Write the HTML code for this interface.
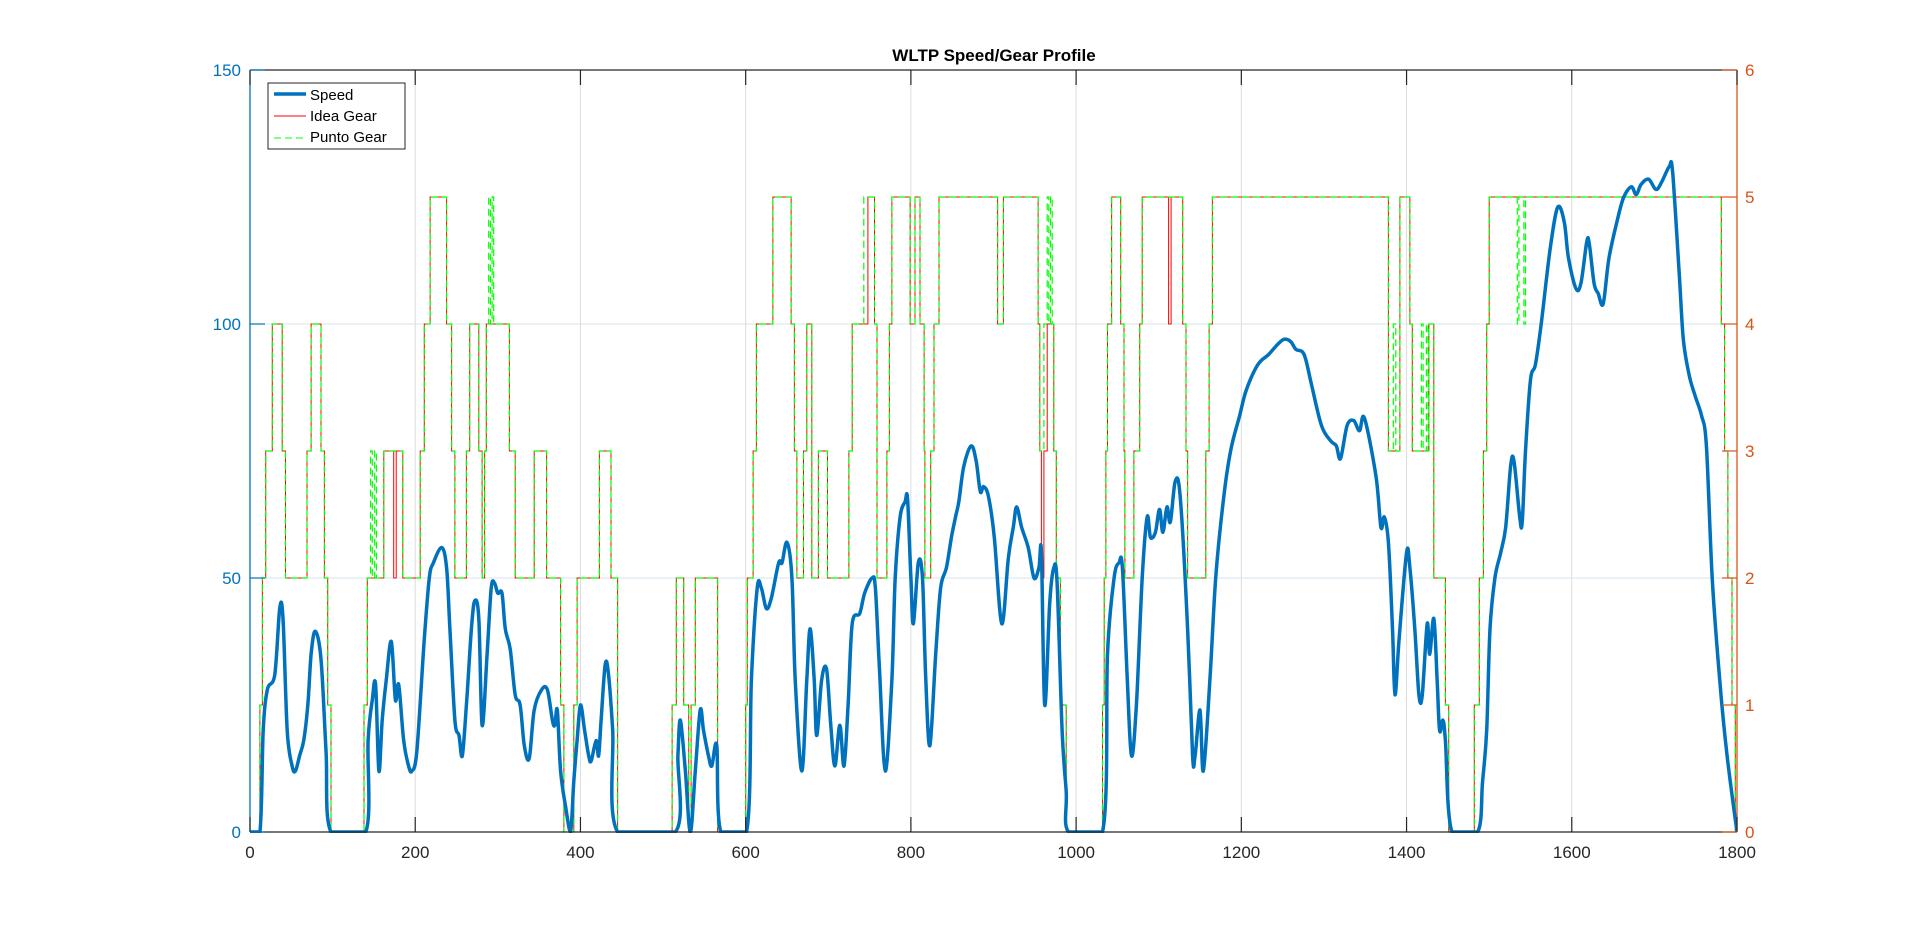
<!DOCTYPE html>
<html><head><meta charset="utf-8"><title>WLTP Speed/Gear Profile</title>
<style>
html,body{margin:0;padding:0;background:#fff;}
svg{display:block;font-family:"Liberation Sans",Arial,sans-serif;}
</style></head>
<body>
<svg id="chart" width="1920" height="936" viewBox="0 0 1920 936" xmlns="http://www.w3.org/2000/svg">
  <rect x="0" y="0" width="1920" height="936" fill="#ffffff"/>
  <defs><clipPath id="plotclip"><rect x="250" y="70" width="1487" height="763"/></clipPath></defs>
  <g id="grid"></g>
  <g id="series" clip-path="url(#plotclip)"></g>
  <g id="axes"></g>
  <text x="994" y="61" text-anchor="middle" font-size="17" font-weight="bold" fill="#000">WLTP Speed/Gear Profile</text>
  <g>
    <rect x="268" y="83" width="137" height="66" fill="#fff" stroke="#262626" stroke-width="1"/>
    <line x1="274" y1="94" x2="306" y2="94" stroke="#0072BD" stroke-width="3.5"/>
    <text x="310" y="100" font-size="15" fill="#000">Speed</text>
    <line x1="274" y1="116" x2="306" y2="116" stroke="#FF0000" stroke-width="1"/>
    <text x="310" y="121" font-size="15" fill="#000">Idea Gear</text>
    <line x1="274" y1="138" x2="306" y2="138" stroke="#00FF00" stroke-width="1" stroke-dasharray="7,4"/>
    <text x="310" y="142" font-size="15" fill="#000">Punto Gear</text>
  </g>
</svg>
<script>
// ---- data ----
const speedTimes = [0,12,16,21,30,36,40,45,51,55,60,65,70,74,79,86,92,98,
 140,143,148,152,156,160,165,171,176,180,186,192,196,202,211,217,222,232,238,242,248,253,257,262,268,272,277,281,287,292,296,300,305,309,315,321,327,332,338,344,353,360,366,369,372,376,382,388,
 392,396,400,405,410,413,419,422,425,430,434,439,445,
 515,518,521,527,533,539,545,549,555,559,565,570,
 601,607,614,619,625,631,640,644,650,656,660,668,674,678,683,686,692,698,703,708,714,719,724,729,738,744,753,757,762,769,777,781,787,793,796,800,803,809,814,818,823,830,836,843,849,854,858,864,873,879,884,888,894,901,910,918,924,928,934,942,949,955,958,962,968,973,977,983,988,991,
 1032,1038,1046,1052,1056,1062,1067,1073,1080,1086,1090,1096,1101,1105,1110,1114,1120,1126,1135,1141,1144,1150,1154,1162,1169,1178,1187,1198,1206,1220,1233,1244,1252,1260,1266,1276,1285,1297,1308,1315,1320,1328,1336,1343,1349,1363,1369,1373,1378,1383,1386,1391,1400,1404,1410,1415,1419,1425,1428,1433,1437,1440,1444,1447,1455,
 1486,1492,1497,1501,1507,1514,1520,1526,1530,1537,1540,1544,1550,1556,1563,1574,1583,1591,1596,1605,1611,1618,1621,1627,1632,1638,1645,1656,1663,1672,1678,1684,1693,1702,1709,1718,1722,1730,1735,1742,1749,1757,1763,1770,1779,1788,1800];
const speedValues = [0,0,20,28,31,44,42,20,13,12,15,18,25,35,39.5,34,16,0,
 0,18,26,29,12,22,30,37.5,26,29,18,13,12,16,38,50,53,56,52,40,22,19,15,25,40,45.5,42,21,35,48,49,47,47,40,36,27,25,17,14.5,24,28,28,22,21,24,12,5,0,
 10,18,25,20,15,14,18,15,22,33,31,20,0,
 0,15,22,12,0,12,24,20,15,13,17,0,
 0,30,48,48,44,46,53,53,57,50,30,12,30,40,30,19,30,32,21,13,21,13,25,41,43,47,50,48,32,12,30,50,62,65,65.5,50,41,53,50,30,17,35,48,52,58,62,65,72,76,73,67,68,66,58,41,54,60,64,60,56,50,52,55,25,45,52,49,20,8,0,
 0,35,50,53,52,30,15,25,50,62,58,59,63.5,59,64,61,69,66,40,15,15,24,12,30,50,65,75,82,87,92,94,96,97,96.5,95,94,88,80,77,76,73.5,80,81,79,81.5,70,60,62,57,40,27,38,55,52,40,27,27,41,35,42,30,20,22,18,0,
 0,10,20,40,50,55,60,72,73,62,61,75,89,92,100,115,123,120,113,107,108,116,116,108,106,104,113,121,125,127,125.5,127.5,128.5,126.5,128,131,130,110,97,90,86,82,76,50,30,15,0];
const ideaTimes = [0,12,15,19,27,39,43,69,74,86,90,94,98,
 138,142,162,174,177,185,206,211,218,238,244,248,262,266,277,281,284,286,314,321,344,359,376,380,392,396,423,437,445,
 511,516,525,531,534,539,566,
 600,602,609,613,633,655,659,662,670,674,680,688,699,725,729,748,756,759,771,774,777,799,805,811,816,817,824,828,834,905,912,954,956,958,961,965,973,976,981,988,
 1032,1034,1036,1038,1043,1054,1058,1059,1070,1077,1080,1112,1115,1129,1133,1135,1157,1161,1165,1378,1392,1404,1407,1427,1433,1447,1451,
 1482,1488,1493,1497,1500,1781,1785,1789,1794,1798];
const ideaGear = [0,1,2,3,4,3,2,3,4,3,2,1,0,
 1,2,3,2,3,2,3,4,5,4,3,2,3,4,3,2,3,4,3,2,3,2,1,0,1,2,3,2,0,
 1,2,1,0,1,2,0,
 1,2,3,4,5,4,3,2,3,4,2,3,2,3,4,5,4,2,3,4,5,4,5,4,3,2,3,4,5,4,5,4,3,2,3,4,3,2,1,0,
 1,2,3,4,5,4,3,2,3,4,5,4,5,4,3,2,3,4,5,3,5,4,3,4,2,1,0,
 1,2,3,4,5,4,3,2,1,0];
const puntoTimes = [0,12,15,19,27,39,43,69,74,86,90,94,98,
 138,142,146,148,151,153,162,185,206,211,218,238,244,248,262,266,277,281,284,286,289,291,293,295,314,321,344,359,376,380,392,396,423,437,445,
 511,516,525,531,534,539,566,
 600,602,609,613,633,655,659,662,670,674,680,688,699,725,729,743,756,759,771,774,777,799,805,811,816,817,824,828,834,905,912,954,956,961,965,967,969,971,973,976,981,988,
 1032,1034,1036,1038,1043,1054,1058,1059,1070,1077,1080,1129,1133,1135,1157,1161,1165,1378,1384,1387,1392,1404,1407,1418,1420,1424,1426,1427,1433,1447,1451,
 1482,1488,1493,1497,1500,1534,1536,1542,1544,1781,1785,1789,1794,1798];
const puntoGear = [0,1,2,3,4,3,2,3,4,3,2,1,0,
 1,2,3,2,3,2,3,2,3,4,5,4,3,2,3,4,3,2,3,4,5,4,5,4,3,2,3,2,1,0,1,2,3,2,0,
 1,2,1,0,1,2,0,
 1,2,3,4,5,4,3,2,3,4,2,3,2,3,4,5,4,2,3,4,5,4,5,4,3,2,3,4,5,4,5,4,3,4,5,4,5,4,3,2,1,0,
 1,2,3,4,5,4,3,2,3,4,5,4,3,2,3,4,5,3,4,3,5,4,3,4,3,4,3,4,2,1,0,
 1,2,3,4,5,4,5,4,5,4,3,2,1,0];
const xTicks = [0,200,400,600,800,1000,1200,1400,1600,1800];
const yLeftTicks = [0,50,100,150];
const yRightTicks = [0,1,2,3,4,5,6];

// ---- axis functions ----
const X0=250, X1=1737, YT=70, YB=832;
function xs(t){ return X0 + (t/1800)*(X1-X0); }
function ys(v){ return YB - (v/150)*(YB-YT); }
function yg(g){ return YB - (g/6)*(YB-YT); }
const NS='http://www.w3.org/2000/svg';
function mk(tag, attrs, parent){
  const e=document.createElementNS(NS,tag);
  for(const k in attrs) e.setAttribute(k, attrs[k]);
  parent.appendChild(e); return e;
}
const gridG=document.getElementById('grid'), axesG=document.getElementById('axes'), seriesG=document.getElementById('series');

// grid
xTicks.forEach(t=>{
  if(t===0||t===1800) return;
  const l=mk('line',{x1:xs(t),x2:xs(t),y1:YT,y2:YB,stroke:'#dcdcdc','stroke-width':1},gridG);
  
  
});
yLeftTicks.forEach(v=>{
  if(v===0||v===150) return;
  const l=mk('line',{x1:X0,x2:X1,y1:ys(v),y2:ys(v),stroke:'#d6e6f2','stroke-width':1},gridG);
  
  
});

// gear step paths
function stepPath(ts, gs){
  let d='M'+xs(ts[0]).toFixed(1)+','+yg(gs[0]).toFixed(1);
  const n=Math.min(ts.length, gs.length);
  for(let i=1;i<n;i++){
    d+=' H'+xs(ts[i]).toFixed(1)+' V'+yg(gs[i]).toFixed(1);
  }
  d+=' H'+xs(1800).toFixed(1);
  return d;
}
const idea=mk('path',{d:stepPath(ideaTimes,ideaGear),fill:'none',stroke:'#FF0000','stroke-width':1},seriesG);


const punto=mk('path',{d:stepPath(puntoTimes,puntoGear),fill:'none',stroke:'#00FF00','stroke-width':1.2,'stroke-dasharray':'7,4'},seriesG);



// speed smooth path (Catmull-Rom)
function smoothPath(ts, vs){
  const n=Math.min(ts.length, vs.length);
  const P=[];
  for(let i=0;i<n;i++) P.push([xs(ts[i]), ys(vs[i])]);
  let d='M'+P[0][0].toFixed(1)+','+P[0][1].toFixed(1);
  for(let i=0;i<P.length-1;i++){
    const p0=P[Math.max(0,i-1)], p1=P[i], p2=P[i+1], p3=P[Math.min(P.length-1,i+2)];
    let c1y=p1[1]+(p2[1]-p0[1])/6, c2y=p2[1]-(p3[1]-p1[1])/6;
    c1y=Math.min(c1y,YB); c2y=Math.min(c2y,YB);
    const c1x=p1[0]+(p2[0]-p0[0])/6, c2x=p2[0]-(p3[0]-p1[0])/6;
    d+=' C'+c1x.toFixed(1)+','+c1y.toFixed(1)+' '+c2x.toFixed(1)+','+c2y.toFixed(1)+' '+p2[0].toFixed(1)+','+p2[1].toFixed(1);
  }
  return d;
}
const sp=mk('path',{d:smoothPath(speedTimes,speedValues),fill:'none',stroke:'#0072BD','stroke-width':3.5,'stroke-linejoin':'round'},seriesG);



// axes lines
const topLine=mk('line',{x1:X0,x2:X1,y1:YT,y2:YT,stroke:'#262626','stroke-width':1.3},axesG);


const botLine=mk('line',{x1:X0,x2:X1,y1:YB,y2:YB,stroke:'#262626','stroke-width':1.3},axesG);


const leftAxis=mk('line',{x1:X0,x2:X0,y1:YT,y2:YB,stroke:'#0072BD','stroke-width':1.3},axesG);


const rightAxis=mk('line',{x1:X1,x2:X1,y1:YT,y2:YB,stroke:'#D95319','stroke-width':1.3},axesG);



xTicks.forEach(t=>{
  const x=xs(t);
  const a=mk('line',{x1:x,x2:x,y1:YB,y2:YB-15,stroke:'#262626','stroke-width':1.2},axesG);
  
  
  const b=mk('line',{x1:x,x2:x,y1:YT,y2:YT+15,stroke:'#262626','stroke-width':1.2},axesG);
  
  
  const tx=mk('text',{x:x,y:858,'text-anchor':'middle','font-size':17,fill:'#262626'},axesG);
  tx.textContent=String(t);
  
  
});
yLeftTicks.forEach(v=>{
  const y=ys(v);
  const a=mk('line',{x1:X0,x2:X0+15,y1:y,y2:y,stroke:'#0072BD','stroke-width':1.2},axesG);
  
  
  const tx=mk('text',{x:241,y:y+6,'text-anchor':'end','font-size':17,fill:'#0072BD'},axesG);
  tx.textContent=String(v);
  
  
});
yRightTicks.forEach(g=>{
  const y=yg(g);
  const a=mk('line',{x1:X1,x2:X1-15,y1:y,y2:y,stroke:'#D95319','stroke-width':1.2},axesG);
  
  
  const tx=mk('text',{x:1745,y:y+6,'text-anchor':'start','font-size':17,fill:'#D95319'},axesG);
  tx.textContent=String(g);
  
  
});
</script>
</body></html>
